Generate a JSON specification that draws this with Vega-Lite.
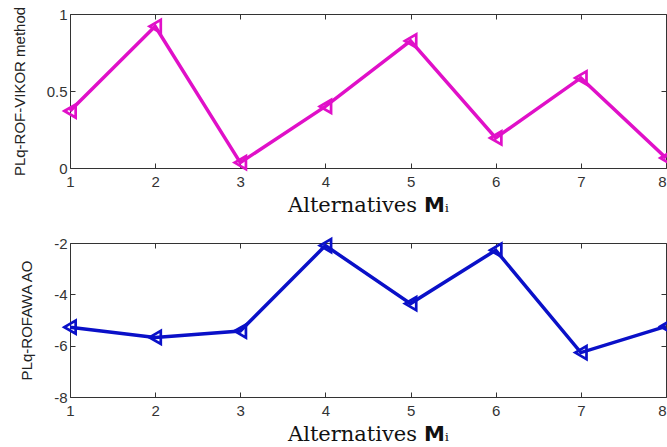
{
  "$schema": "https://vega.github.io/schema/vega-lite/v6.json",
  "autosize": {"type": "pad"},
  "padding": {"left": 11, "top": 5, "right": 0, "bottom": 0},
  "background": "white",
  "spacing": 75,
  "bounds": "flush",
  "datasets": {
    "vikor": [
      {"alt": 1, "v": 0.37}, {"alt": 2, "v": 0.92}, {"alt": 3, "v": 0.035}, {"alt": 4, "v": 0.40},
      {"alt": 5, "v": 0.825}, {"alt": 6, "v": 0.195}, {"alt": 7, "v": 0.585}, {"alt": 8, "v": 0.065}
    ],
    "awa": [
      {"alt": 1, "v": -5.28}, {"alt": 2, "v": -5.68}, {"alt": 3, "v": -5.43}, {"alt": 4, "v": -2.1},
      {"alt": 5, "v": -4.36}, {"alt": 6, "v": -2.28}, {"alt": 7, "v": -6.27}, {"alt": 8, "v": -5.25}
    ]
  },
  "config": {
    "view": {"stroke": "#333333", "strokeWidth": 1},
    "axis": {
      "domain": false, "grid": false, "tickColor": "#333333", "tickSize": -5, "tickWidth": 1,
      "labelFont": "Liberation Sans", "labelFontSize": 15, "labelColor": "#333333",
      "titleFont": "Liberation Sans", "titleFontSize": 15, "titleFontWeight": "normal", "titleColor": "#222222"
    }
  },
  "vconcat": [
    {
      "width": 596, "height": 154,
      "data": {"name": "vikor"},
      "layer": [
        {
          "mark": {"type": "line", "color": "#E010C8", "strokeWidth": 3.5},
          "encoding": {
            "x": {"field": "alt", "type": "quantitative", "scale": {"domain": [1, 8], "nice": false, "zero": false},
                  "axis": {"values": [1,2,3,4,5,6,7,8], "labelPadding": 11, "labelAlign": {"condition": {"test": "datum.value == 8", "value": "right"}, "value": "center"}, "title": "Alternatives 𝗠ᵢ", "titleFont": "DejaVu Serif", "titleFontSize": 21, "titlePadding": 5, "titleColor": "#111111"}},
            "y": {"field": "v", "type": "quantitative", "scale": {"domain": [0, 1], "nice": false},
                  "axis": {"values": [0, 0.5, 1], "labelExpr": "'' + datum.value", "labelPadding": 8, "title": "PLq-ROF-VIKOR method", "titlePadding": 19}}
          }
        },
        {
          "mark": {"type": "point", "shape": "triangle-left", "filled": false, "size": 170, "strokeWidth": 2.7, "color": "#E010C8", "opacity": 1},
          "encoding": {
            "x": {"field": "alt", "type": "quantitative", "axis": {"orient": "top", "values": [1,2,3,4,5,6,7,8], "labels": false, "title": null}},
            "y": {"field": "v", "type": "quantitative", "axis": {"orient": "right", "values": [0, 0.5, 1], "labels": false, "title": null}}
          }
        }
      ],
      "resolve": {"axis": {"x": "independent", "y": "independent"}}
    },
    {
      "width": 596, "height": 154,
      "data": {"name": "awa"},
      "layer": [
        {
          "mark": {"type": "line", "color": "#0A10C8", "strokeWidth": 3.5},
          "encoding": {
            "x": {"field": "alt", "type": "quantitative", "scale": {"domain": [1, 8], "nice": false, "zero": false},
                  "axis": {"values": [1,2,3,4,5,6,7,8], "labelPadding": 11, "labelAlign": {"condition": {"test": "datum.value == 8", "value": "right"}, "value": "center"}, "title": "Alternatives 𝗠ᵢ", "titleFont": "DejaVu Serif", "titleFontSize": 21, "titlePadding": 5, "titleColor": "#111111"}},
            "y": {"field": "v", "type": "quantitative", "scale": {"domain": [-8, -2], "nice": false, "zero": false},
                  "axis": {"values": [-8, -6, -4, -2], "labelExpr": "'' + datum.value", "labelPadding": 8, "title": "PLq-ROFAWA AO", "titlePadding": 19}}
          }
        },
        {
          "mark": {"type": "point", "shape": "triangle-left", "filled": false, "size": 170, "strokeWidth": 2.7, "color": "#0A10C8", "opacity": 1},
          "encoding": {
            "x": {"field": "alt", "type": "quantitative", "axis": {"orient": "top", "values": [1,2,3,4,5,6,7,8], "labels": false, "title": null}},
            "y": {"field": "v", "type": "quantitative", "axis": {"orient": "right", "values": [-8, -6, -4, -2], "labels": false, "title": null}}
          }
        }
      ],
      "resolve": {"axis": {"x": "independent", "y": "independent"}}
    }
  ]
}
